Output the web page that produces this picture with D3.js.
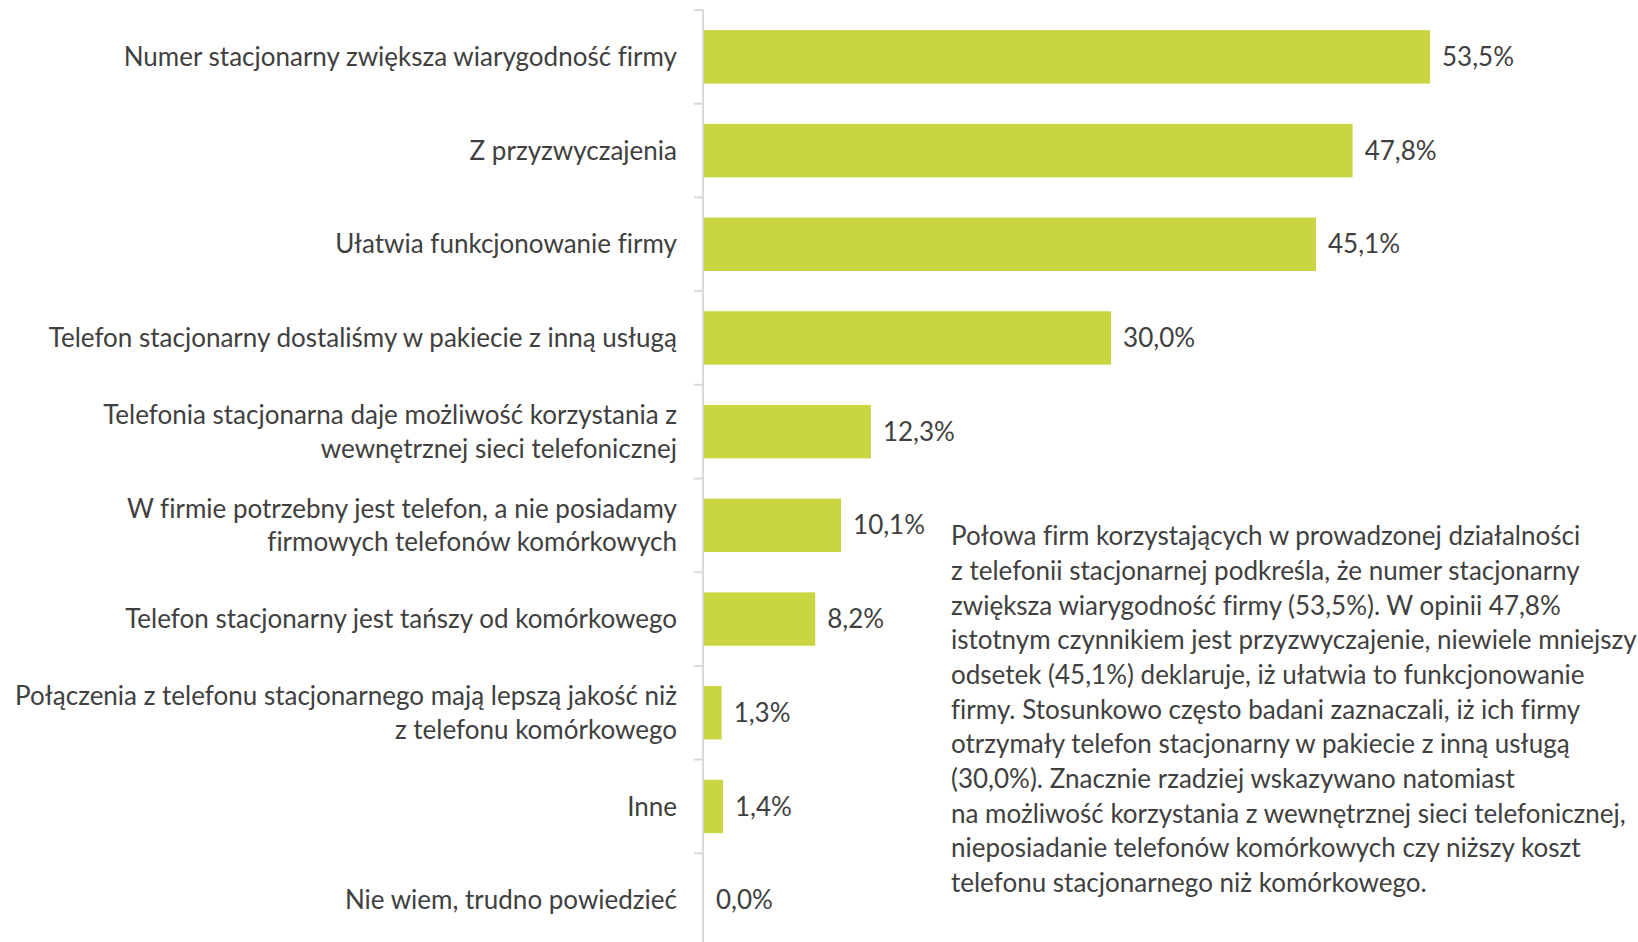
<!DOCTYPE html>
<html>
<head>
<meta charset="utf-8">
<script src="https://cdn.jsdelivr.net/npm/d3@7"></script>
<style>
  body { margin: 0; background: #fff; }
  svg text { font-family: Lato, "Open Sans", sans-serif; fill: #404040; font-variant-ligatures: none; }
</style>
</head>
<body>
<svg id="chart" width="1638" height="942"></svg>
<script>
// chart data
var categories = [
    "Numer stacjonarny zwiększa wiarygodność firmy",
    "Z przyzwyczajenia",
    "Ułatwia funkcjonowanie firmy",
    "Telefon stacjonarny dostaliśmy w pakiecie z inną usługą",
    "Telefonia stacjonarna daje możliwość korzystania z\nwewnętrznej sieci telefonicznej",
    "W firmie potrzebny jest telefon, a nie posiadamy\nfirmowych telefonów komórkowych",
    "Telefon stacjonarny jest tańszy od komórkowego",
    "Połączenia z telefonu stacjonarnego mają lepszą jakość niż\nz telefonu komórkowego",
    "Inne",
    "Nie wiem, trudno powiedzieć"
];
var values = [53.5, 47.8, 45.1, 30.0, 12.3, 10.1, 8.2, 1.3, 1.4, 0.0];
var noteLines = [
    "Połowa firm korzystających w prowadzonej działalności",
    "z telefonii stacjonarnej podkreśla, że numer stacjonarny",
    "zwiększa wiarygodność firmy (53,5%). W opinii 47,8%",
    "istotnym czynnikiem jest przyzwyczajenie, niewiele mniejszy",
    "odsetek (45,1%) deklaruje, iż ułatwia to funkcjonowanie",
    "firmy. Stosunkowo często badani zaznaczali, iż ich firmy",
    "otrzymały telefon stacjonarny w pakiecie z inną usługą",
    "(30,0%). Znacznie rzadziej wskazywano natomiast",
    "na możliwość korzystania z wewnętrznej sieci telefonicznej,",
    "nieposiadanie telefonów komórkowych czy niższy koszt",
    "telefonu stacjonarnego niż komórkowego."
];

var fontSize = 26,
    axisX = 703,
    barColor = "#c9d641";

var svg = d3.select("#chart");

var y = d3.scaleBand()
    .domain(categories)
    .range([10, 947])
    .paddingInner(0.43)
    .paddingOuter(0.215);

var x = d3.scaleLinear()
    .domain([0, 60])
    .range([axisX + 1, axisX + 1 + 60 * 13.57]);

var fmt = function(v) { return v.toFixed(1).replace(".", ",") + "%"; };

// bars
svg.selectAll(".bar")
    .data(values)
  .enter().append("rect")
    .attr("class", "bar")
    .attr("x", x(0))
    .attr("y", function(d, i) { return y(categories[i]); })
    .attr("width", function(d) { return x(d) - x(0); })
    .attr("height", y.bandwidth())
    .attr("fill", barColor);

// axis line and ticks between categories
var axis = svg.append("g").attr("stroke", "#d9d9d9").attr("stroke-width", 2);
axis.append("line")
    .attr("x1", axisX).attr("x2", axisX)
    .attr("y1", y.range()[0]).attr("y2", y.range()[1]);
axis.selectAll(".tick")
    .data(d3.range(categories.length + 1))
  .enter().append("line")
    .attr("x1", axisX - 9).attr("x2", axisX)
    .attr("y1", function(k) { return y.range()[0] + k * y.step(); })
    .attr("y2", function(k) { return y.range()[0] + k * y.step(); });

// category labels
var lineH = 33.5;
svg.selectAll(".cat")
    .data(categories)
  .enter().append("text")
    .attr("class", "cat")
    .attr("text-anchor", "end")
    .attr("font-size", fontSize)
    .each(function(d) {
        var lines = d.split("\n"),
            cy = y(d) + y.bandwidth() / 2,
            top = cy - (lines.length - 1) * lineH / 2;
        var t = d3.select(this);
        lines.forEach(function(l, j) {
            t.append("tspan")
                .attr("x", 677)
                .attr("y", top + j * lineH)
                .attr("dy", "0.35em")
                .text(l);
        });
    });

// value labels
svg.selectAll(".val")
    .data(values)
  .enter().append("text")
    .attr("class", "val")
    .attr("font-size", fontSize)
    .attr("x", function(d) { return x(d) + 12; })
    .attr("y", function(d, i) { return y(categories[i]) + y.bandwidth() / 2; })
    .attr("dy", "0.35em")
    .text(fmt);

// commentary
svg.append("text")
    .attr("font-size", fontSize)
    .selectAll("tspan")
    .data(noteLines)
  .enter().append("tspan")
    .attr("x", 951)
    .attr("y", function(d, i) { return 536 + i * 34.7; })
    .attr("dy", "0.35em")
    .text(function(d) { return d; });
</script>
</body>
</html>
